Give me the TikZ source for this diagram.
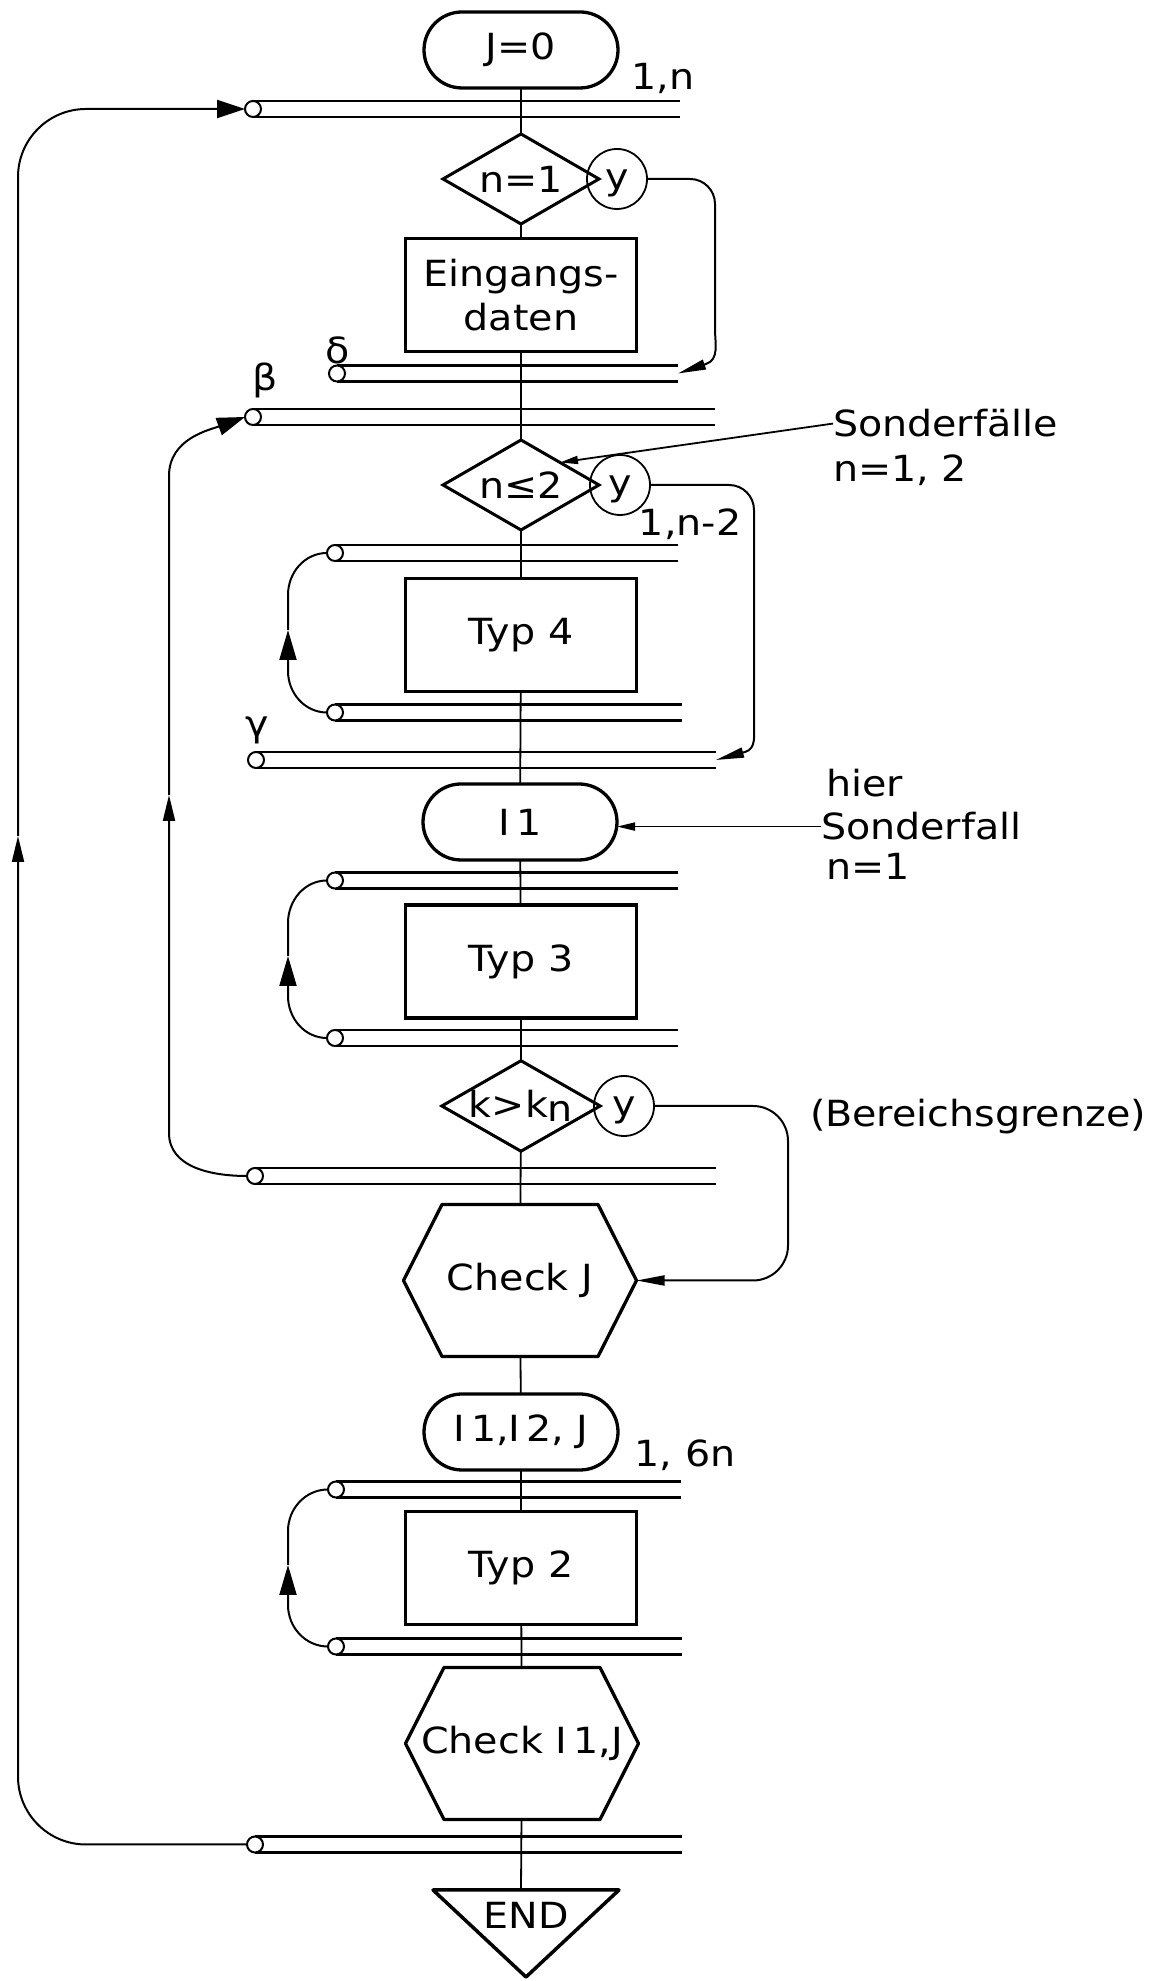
\documentclass[tikz,border=0pt]{standalone}
\usepackage{fontspec}
\setmainfont{DejaVu Sans}[FakeStretch=1.1]
\usetikzlibrary{arrows.meta,calc,shapes.geometric,shapes.misc}

\tikzset{
  every node/.style={inner sep=0pt,outer sep=0pt},
  stadium/.style={draw,rounded rectangle,line width=3.3pt,minimum width=194pt,minimum height=76pt},
  procbox/.style={draw,rectangle,line width=3.5pt,minimum width=231pt,minimum height=113pt,align=center},
  decide/.style={draw,diamond,shape aspect=1.75,line width=3pt,minimum width=156pt,minimum height=90pt},
  ynode/.style={draw,circle,line width=1.8pt,minimum size=60pt,text height=22pt,text depth=0pt},
  hexa/.style={rectangle,minimum width=233pt,minimum height=152pt,
    append after command={\pgfextra{\let\hexnode\tikzlastnode
      \draw[line width=3.3pt,line join=round] (\hexnode.west)
        -- ($(\hexnode.north west)+(38.5,0)$) -- ($(\hexnode.north east)+(-38.5,0)$)
        -- (\hexnode.east)
        -- ($(\hexnode.south east)+(-38.5,0)$) -- ($(\hexnode.south west)+(38.5,0)$) -- cycle;}}},
  barnode/.style={minimum height=16pt},
  barline/.style={line width=2.2pt},
  barend/.style={draw,circle,fill=white,line width=2pt,minimum size=16pt},
  flow/.style={line width=1.8pt},
  loopline/.style={line width=2pt},
  endtip/.style={-{Triangle[length=28pt,width=18pt]}},
  midtip/.style={-{Triangle[length=26pt,width=12pt]}},
  looptip/.style={-{Triangle[length=30pt,width=17pt]}},
  thintip/.style={-{Triangle[length=28pt,width=10pt]}},
  leader/.style={line width=1.8pt,-{Triangle[length=18pt,width=8pt]}},
  lbl/.style={anchor=base west}
}

\newcommand{\LoopBar}[4]{%
  \node[barnode,minimum width={(#3-#2)*1pt}] (#1) at ({(#2+#3)/2},#4) {};
  \draw[barline] (#1.north west) -- (#1.north east) (#1.south west) -- (#1.south east);
  \node[barend] (#1-c) at (#1.west) {};
}

\begin{document}
\begin{tikzpicture}[x=1pt,y=1pt,font=\fontsize{36}{44}\selectfont]
\useasboundingbox (0,0) rectangle (1161,1981);

\node[stadium] (J0) at (521,1931) {J=0};
\LoopBar{bN}{253}{680}{1872}
\node (lN) at (663,1903) {1,n};
\node[decide] (d1) at (521,1802) {n=1};
\node[ynode] (y1) at (617,1802) {y};
\node[procbox] (eing) at (521,1686) {Eingangs-\\daten};
\LoopBar{bD}{337}{678}{1607.5}
\node (lD) at (338,1631) {δ};
\LoopBar{bB}{253}{715}{1564}
\node (lB) at (265,1601) {β};

\node[decide] (d2) at (521,1496) {n≤2};
\node[ynode] (y2) at (620,1496) {y};
\node[lbl] (son1) at (833,1544) {Sonderfälle};
\node[lbl] (son2) at (833,1499) {n=1, 2};
\node (lT4) at (690,1457) {1,n-2};
\LoopBar{b4t}{335}{678}{1428}
\node[procbox] (typ4) at (521,1346) {Typ 4};
\LoopBar{b4b}{335}{682}{1268.5}
\LoopBar{bG}{256}{716}{1221}
\node (lG) at (257,1251) {γ};

\node[stadium] (I1) at (520,1159) {I\,1};
\node[lbl] (hr1) at (826,1184) {hier};
\node[lbl] (hr2) at (821,1141) {Sonderfall};
\node[lbl] (hr3) at (826,1101) {n=1};
\LoopBar{b3t}{335}{678}{1100.5}
\node[procbox] (typ3) at (521,1019.5) {Typ 3};
\LoopBar{b3b}{335}{678}{943}

\node[decide] (d3) at (521,875) {k>k\raisebox{-0.1em}{n}};
\node[ynode] (y3) at (624,875) {y};
\node[lbl] (ber) at (810,854) {(Bereichsgrenze)};
\LoopBar{bK}{255}{716}{805}
\node[hexa] (chkJ) at (520,700.5) {Check J};

\node[stadium] (I2J) at (521,549) {I\,1,I\,2, J};
\node (lT2) at (685,526) {1, 6n};
\LoopBar{b2t}{336}{681}{491.5}
\node[procbox] (typ2) at (521,413) {Typ 2};
\LoopBar{b2b}{336}{682}{334.5}
\node[hexa] (chkI) at (522,237.5) {Check I\,1,J};
\LoopBar{bE}{255}{682}{136.5}
\node (endn) at (526,66) {END};
\coordinate (endtop) at (521,91);
\draw[line width=3.5pt,line join=round] (433,91) -- (619,91) -- (526,4) -- cycle;

\draw[flow] (J0) -- (d1) -- (eing) -- (d2) -- (typ4) -- (I1) -- (typ3) -- (d3) -- (chkJ)
  -- (I2J) -- (typ2) -- (chkI) -- (endtop);

\draw[loopline,thintip] (y1.east) -- (690,1802) to[out=0,in=90] (715,1777) -- (715,1652)
  to[out=-90,in=18] (706,1617) -- (bD.east);
\draw[loopline,thintip] (y2.east) -- (729,1496) to[out=0,in=90] (754,1471) -- (754,1258)
  to[out=-90,in=15] (745,1229) -- (bG.east);
\draw[loopline,thintip,rounded corners=35pt] (y3.east) -- (788,875) -- (788,700.5) -- (chkJ.east);

\draw[leader] (son1.west) -- (d2.north east);
\draw[leader] (hr2.west) -- (hr2.west -| I1.east);

\coordinate (jm) at (18,1145);
\draw[loopline,midtip,rounded corners=68pt] (bE-c.west) -- (jm |- bE-c) -- (jm);
\draw[loopline,endtip,rounded corners=68pt] (jm) -- (jm |- bN-c) -- (bN-c.west);

\coordinate (km) at (169,1186);
\draw[loopline,midtip] (bK-c.west) to[out=180,in=-90] (169,848) -- (km);
\draw[loopline,endtip] (km) -- (169,1505) to[out=90,in=200] (bB-c.west);

\coordinate (m4) at (288,1351);
\draw[loopline,looptip] (b4b-c.west) to[out=180,in=-90] (288,1310) -- (m4);
\draw[loopline] (m4) -- (288,1386) to[out=90,in=180] (b4t-c.west);

\coordinate (m3) at (288,1025);
\draw[loopline,looptip] (b3b-c.west) to[out=180,in=-90] (288,985) -- (m3);
\draw[loopline] (m3) -- (288,1058) to[out=90,in=180] (b3t-c.west);

\coordinate (m2) at (288,416);
\draw[loopline,looptip] (b2b-c.west) to[out=180,in=-90] (288,376) -- (m2);
\draw[loopline] (m2) -- (288,450) to[out=90,in=180] (b2t-c.west);

\end{tikzpicture}
\end{document}
